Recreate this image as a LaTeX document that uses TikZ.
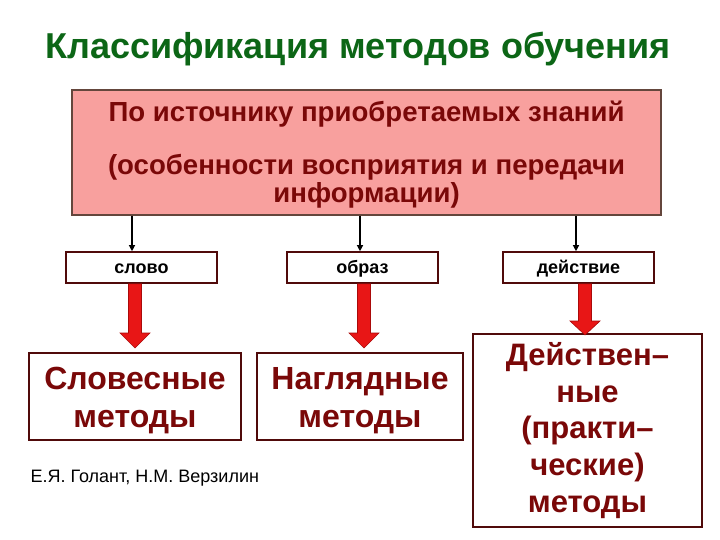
\documentclass[tikz,border=0pt]{standalone}
\usepackage{fontspec}
\setmainfont{Liberation Sans}
\usetikzlibrary{arrows.meta,calc}
\definecolor{titlegreen}{RGB}{12,102,22}
\definecolor{boxpink}{RGB}{248,160,158}
\definecolor{boxedge}{RGB}{100,70,60}
\definecolor{maroon}{RGB}{122,8,8}
\definecolor{frameedge}{RGB}{80,10,10}
\definecolor{arrowred}{RGB}{232,22,22}
\definecolor{arrowedge}{RGB}{170,10,10}
\tikzset{
  topbox/.style={draw=boxedge, line width=1.4pt, fill=boxpink, minimum width=589, minimum height=125, inner sep=0pt},
  toptext/.style={anchor=base, inner sep=0pt, text=maroon, font=\fontsize{27.6}{28.5}\selectfont\bfseries},
  smallbox/.style={draw=frameedge, line width=1.6pt, fill=white, minimum width=151, minimum height=31, inner sep=0pt,
    text height=13pt, text depth=2pt, font=\fontsize{18}{20}\selectfont\bfseries},
  methodbox/.style={draw=frameedge, line width=1.8pt, fill=white, inner sep=0pt},
  methodtext/.style={inner sep=0pt, text=maroon, align=center, font=\fontsize{32}{38}\selectfont\bfseries},
  conn/.style={draw=black, line width=1.2pt, -{Triangle[length=6pt,width=6pt]}},
  blockarrow/.style={fill=arrowred, draw=arrowedge, line width=0.6pt, line join=miter}
}
\newcommand{\redblock}[4]{% name of upper node, x, shoulder y, tip y
  \path (#1.south -| #2,0) coordinate (ba);
  \draw[blockarrow] ($(ba)+(-6.5,0)$) -- ($(ba)+(6.5,0)$) -- (#2+6.5,#3) -- (#2+15,#3) -- (#2,#4) -- (#2-15,#3) -- (#2-6.5,#3) -- cycle;
}
\begin{document}
\begin{tikzpicture}[x=1pt,y=-1pt]
\useasboundingbox[fill=white] (0,0) rectangle (720,540);
\node[text=titlegreen, font=\fontsize{36}{40}\selectfont\bfseries] (title) at (358,49) {Классификация методов обучения};
\node[topbox] (top) at (366.5,152.5) {};
\node[toptext] (tt1) at (366.5,122) {По источнику приобретаемых знаний};
\node[toptext] (tt2) at (366.5,175) {(особенности восприятия и передачи};
\node[toptext] (tt3) at (366.5,203) {информации)};
\node[smallbox] (slovo) at (141.5,267.5) {слово};
\node[smallbox] (obraz) at (362.5,267.5) {образ};
\node[smallbox] (deistvie) at (578.5,267.5) {действие};
\coordinate (c1) at (132,0);
\coordinate (c2) at (360,0);
\coordinate (c3) at (576,0);
\draw[conn] (top.south -| c1) -- (c1 |- slovo.north);
\draw[conn] (top.south -| c2) -- (c2 |- obraz.north);
\draw[conn] (top.south -| c3) -- (c3 |- deistvie.north);
\node[methodbox, minimum width=212, minimum height=87] (verbal) at (135,396.5) {};
\node[methodtext] (verbaltext) at (135,401) {Словесные\\методы};
\node[methodbox, minimum width=206, minimum height=87] (visual) at (360,396.5) {};
\node[methodtext] (visualtext) at (360,401) {Наглядные\\методы};
\node[methodbox, minimum width=229, minimum height=193] (practical) at (587.5,430.5) {};
\node[methodtext, font=\fontsize{31}{36.8}\selectfont\bfseries] (practicaltext) at (587.5,430.5) {Действен–\\ные\\(практи–\\ческие)\\методы};
\redblock{slovo}{135}{333}{348}
\redblock{obraz}{364}{333}{348}
\redblock{deistvie}{585}{321}{335}
\node[anchor=west, font=\fontsize{18}{20}\selectfont] (authors) at (27,478) {Е.Я. Голант, Н.М. Верзилин};
\end{tikzpicture}
\end{document}
